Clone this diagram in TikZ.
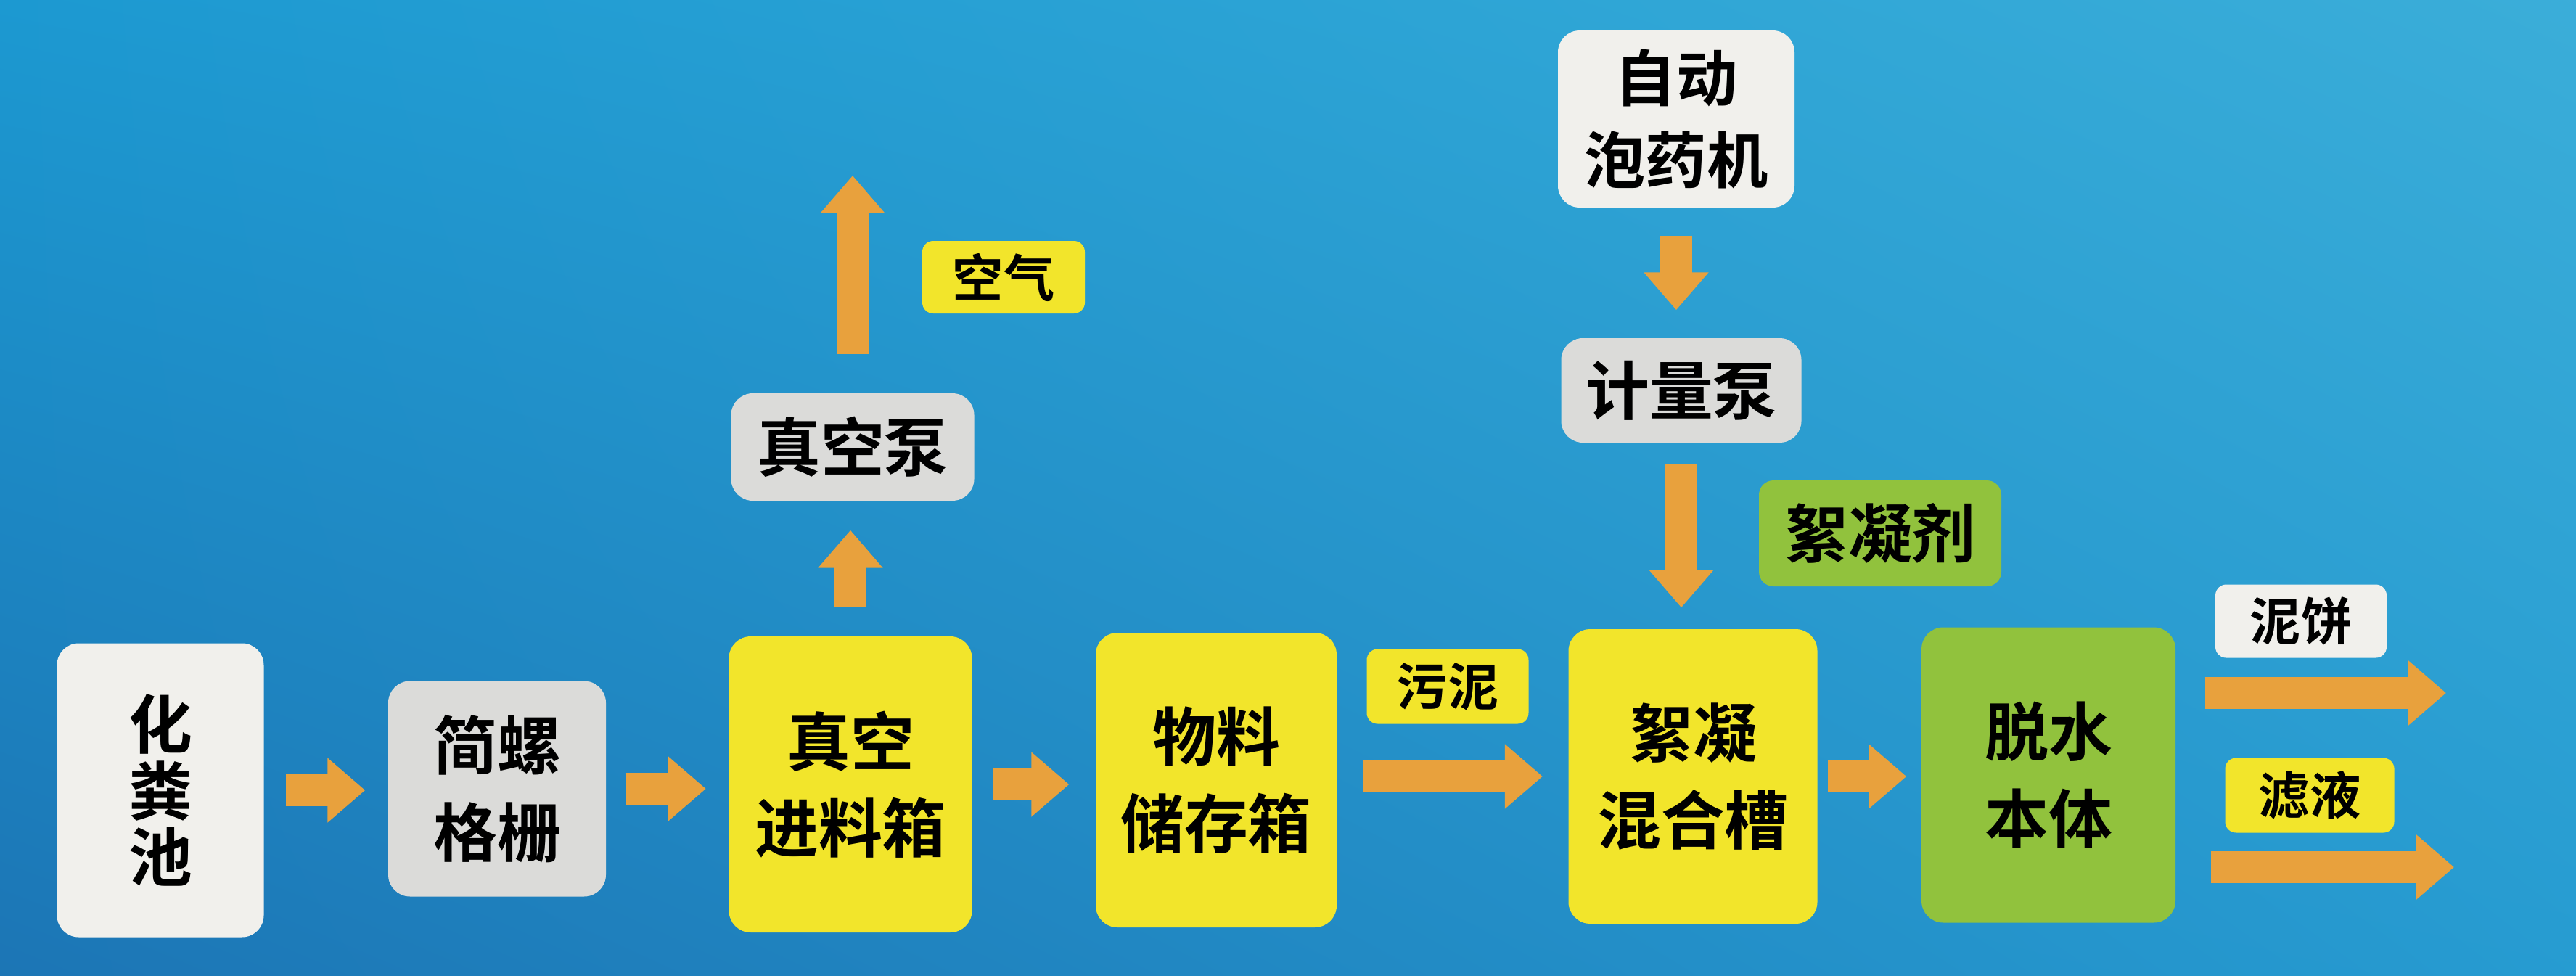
\documentclass[tikz,border=0pt]{standalone}
\usepackage{xcolor}
\usepackage{tikz}
\usepackage{fontspec}
\setmainfont{Noto Sans CJK SC}[BoldFont={* Bold}]
\usetikzlibrary{calc}
\usetikzlibrary{arrows.meta}
\usetikzlibrary{shadings}
\definecolor{bgul}{rgb}{0.11,0.60,0.82}
\definecolor{bgur}{rgb}{0.23,0.68,0.85}
\definecolor{bgll}{rgb}{0.11,0.46,0.71}
\definecolor{bglr}{rgb}{0.15,0.61,0.82}
\definecolor{eba046}{rgb}{0.91,0.63,0.24}
\definecolor{f1f0ec}{rgb}{0.945,0.94,0.925}
\definecolor{dcdbd8}{rgb}{0.86,0.86,0.85}
\definecolor{f4e52e}{rgb}{0.95,0.9,0.17}
\definecolor{8dba3c}{rgb}{0.57,0.76,0.24}
\tikzstyle{every node}=[font=\bfseries\fontsize{25pt}{34pt}\selectfont]
\tikzstyle{box}=[rounded corners=3mm,inner sep=0pt,align=center,text=black]
\tikzstyle{tag}=[rounded corners=1.5mm,inner sep=0pt,align=center,text=black,font=\bfseries\fontsize{20pt}{24pt}\selectfont]
\tikzstyle{flow}=[->,line width=4.4mm,line cap=butt,color=eba046]

\begin{document}
\begin{tikzpicture}[line cap=round,line join=round,>={Triangle[width=8.6mm,length=5.2mm]},x=1.0cm,y=1.0cm]

            \useasboundingbox (0,0) rectangle (35.5,13.44);
            \shade [upper left=bgul,upper right=bgur,lower left=bgll,lower right=bglr] (0,0) rectangle (35.5,13.44);
            % main line
            \node [box,fill=f1f0ec,minimum width=2.85cm,minimum height=4.05cm,font=\bfseries\fontsize{25pt}{26pt}\selectfont] (pit) at (2.21,2.55) {化\\粪\\池};
            \node [box,fill=dcdbd8,minimum width=3.0cm,minimum height=2.97cm] (grid) at (6.85,2.57) {简螺\\格栅};
            \node [box,fill=f4e52e,minimum width=3.35cm,minimum height=4.08cm] (feed) at (11.72,2.63) {真空\\进料箱};
            \node [box,fill=f4e52e,minimum width=3.32cm,minimum height=4.06cm] (store) at (16.76,2.69) {物料\\储存箱};
            \node [box,fill=f4e52e,minimum width=3.43cm,minimum height=4.06cm] (mix) at (23.33,2.74) {絮凝\\混合槽};
            \node [box,fill=8dba3c,minimum width=3.5cm,minimum height=4.07cm] (press) at (28.23,2.76) {脱水\\本体};
            % upper branches
            \node [box,fill=dcdbd8,minimum width=3.35cm,minimum height=1.48cm] (vpump) at (11.75,7.28) {真空泵};
            \node [box,fill=f1f0ec,minimum width=3.26cm,minimum height=2.44cm,font=\bfseries\fontsize{24pt}{32pt}\selectfont] (doser) at (23.10,11.80) {自动\\泡药机};
            \node [box,fill=dcdbd8,minimum width=3.31cm,minimum height=1.44cm] (mpump) at (23.17,8.06) {计量泵};
            % labels
            \node [tag,fill=f4e52e,minimum width=2.24cm,minimum height=1.0cm] (air) at (13.83,9.62) {空气};
            \node [box,fill=8dba3c,rounded corners=2mm,minimum width=3.34cm,minimum height=1.46cm] (floc) at (25.91,6.09) {絮凝剂};
            \node [tag,fill=f4e52e,minimum width=2.23cm,minimum height=1.03cm] (sludge) at (19.95,3.98) {污泥};
            \node [tag,fill=f1f0ec,minimum width=2.36cm,minimum height=1.01cm] (cake) at (31.71,4.88) {泥饼};
            \node [tag,fill=f4e52e,minimum width=2.33cm,minimum height=1.03cm] (filt) at (31.83,2.48) {滤液};
            \coordinate (airout) at (11.75,11.02);
            \coordinate (cakeout) at (33.71,3.89);
            \coordinate (filtout) at (33.82,1.49);
            % arrows
            \draw [flow,shorten <=3mm,shorten >=3.1mm] (pit.east) -- (pit.east -| grid.west);
            \draw [flow,shorten <=2.7mm,shorten >=3.1mm] (grid.east) -- (grid.east -| feed.west);
            \draw [flow,shorten <=2.8mm,shorten >=3.6mm] (feed.east) -- (feed.east -| store.west);
            \draw [flow,shorten <=3.5mm,shorten >=3.5mm] (store.east |- mix.west) -- (mix.west);
            \draw [flow,shorten <=1.4mm,shorten >=2mm] (mix.east) -- (mix.east -| press.west);
            \draw [flow,shorten <=3.9mm,shorten >=4mm] (feed.north) -- (feed.north |- vpump.south);
            \draw [flow,shorten <=5.3mm] (vpump.north) -- (airout);
            \draw [flow,shorten <=3.8mm,shorten >=3.8mm] (doser.south) -- (doser.south |- mpump.north);
            \draw [flow,shorten <=2.8mm,shorten >=2.9mm] (mpump.south) -- (mpump.south |- mix.north);
            \draw [flow,shorten <=4mm] (press.east |- cakeout) -- (cakeout);
            \draw [flow,shorten <=4.8mm] (press.east |- filtout) -- (filtout);
            \end{tikzpicture}
\end{document}
